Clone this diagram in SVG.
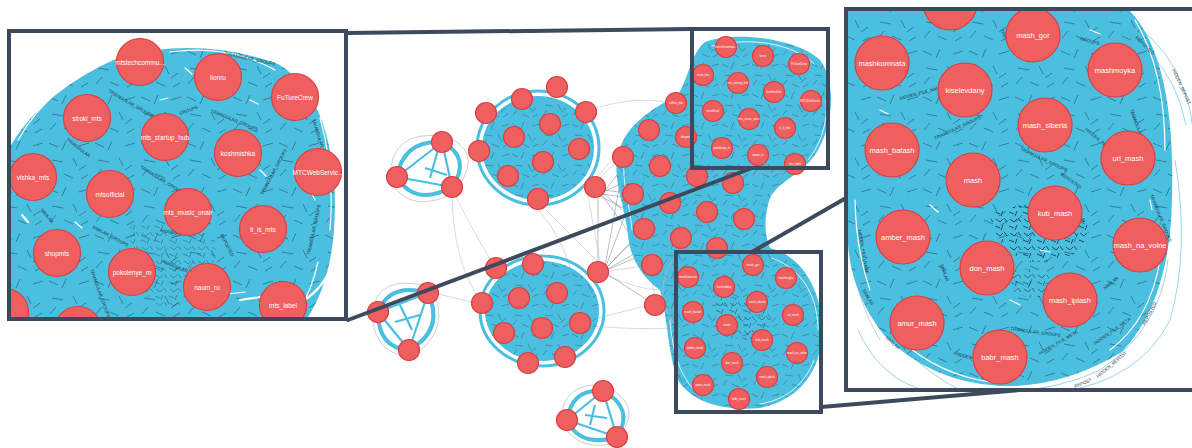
<svg xmlns="http://www.w3.org/2000/svg" width="1192" height="448" viewBox="0 0 1192 448">
<style>
.n{fill:#ef5f5f;stroke:#d8403f;stroke-width:1.2}
.t{font-family:"Liberation Sans",Arial,sans-serif;fill:#fff;text-anchor:middle;dominant-baseline:central}
.tl{font-size:6.5px}.tr{font-size:7.5px}.tm{font-size:2.8px}
.blue{fill:#4bbfe0}
.ring{fill:none;stroke:#4bbfe0}
.scr{fill:url(#scr)}
.e{fill:none;stroke:#b9c3ca;stroke-width:0.6}
.ed{fill:none;stroke:#6f7f8a;stroke-width:0.5}
.gap{fill:none;stroke:#fff;stroke-linecap:round}
.box{fill:none;stroke:#3d4a5d;stroke-width:4}
.zl{stroke:#3d4a5d;stroke-width:4;stroke-linecap:round}
.el{font-family:"Liberation Sans",Arial,sans-serif;font-size:4.5px;fill:#17313f}
.eo{font-family:"Liberation Sans",Arial,sans-serif;font-size:4.5px;fill:#2a3a44}
.arc{fill:none;stroke:#8fd0e3;stroke-width:0.9}
.arcg{fill:none;stroke:#b5bcc2;stroke-width:0.7}
</style>
<defs>
<pattern id="scr" width="30" height="30" patternUnits="userSpaceOnUse">
<path d="M2,4 l6,3 M14,2 l-3,7 M22,6 l7,-2 M5,15 l8,1 M18,14 l3,6 M26,18 l-5,4 M3,25 l4,-5 M12,24 l7,3 M23,27 l5,-3" stroke="#1d3a4c" stroke-width="0.6" opacity="0.6"/>
</pattern>
<pattern id="scr2" width="46" height="46" patternUnits="userSpaceOnUse">
<path d="M3,5 l9,4 M20,3 l-4,9 M33,8 l10,-3 M6,22 l11,2 M27,20 l4,8 M40,27 l-7,5 M4,38 l6,-7 M18,36 l9,4 M35,41 l7,-4" stroke="#1a3646" stroke-width="0.9" opacity="0.55"/>
</pattern>
<pattern id="scr3" width="14" height="14" patternUnits="userSpaceOnUse">
<path d="M1,2 l5,2 M9,1 l-2,5 M2,9 l4,3 M10,8 l3,4 M6,12 l3,-3" stroke="#10242f" stroke-width="1" opacity="0.75"/>
</pattern>
<clipPath id="cl"><rect x="10" y="33" width="334" height="285"/></clipPath>
<clipPath id="cr"><rect x="848" y="11" width="344" height="377"/></clipPath>
</defs>
<rect width="1192" height="448" fill="#fff"/>

<g id="connectors">
<path class="e" d="M452,190 Q452,260 480,300"/>
<path class="e" d="M455,195 Q475,235 492,262"/>
<path class="e" d="M438,294 L472,302"/>
<path class="e" d="M538,209 Q565,240 574,282"/>
<path class="e" d="M596,108 Q635,96 666,102"/>
<path class="e" d="M609,271 L642,266"/>
<path class="e" d="M590,320 L645,306"/>
<path class="e" d="M590,326 Q640,330 672,328"/>
<path class="e" d="M606,275 Q640,290 660,290"/>
<path class="ed" d="M604,192 L623,167 M604,190 L633,194 M603,193 L644,229 M602,195 L652,265 M600,196 L681,238 M598,198 L598,262 M601,194 L670,203 M603,192 L660,166"/>
<path class="ed" d="M606,266 L633,194 M607,267 L644,229 M607,270 L681,238 M606,268 L670,203 M607,274 L655,305 M606,270 L707,212 M605,266 L623,167"/>
<path class="e" d="M600,178 L649,130 M597,177 L620,150 M588,196 L600,262 M545,209 L598,262"/>
<path class="e" d="M655,295 Q650,280 655,275 M665,310 Q690,320 680,330"/>
</g>

<g id="blobs">
<path class="blue" d="M705,42 C740,30 800,40 820,60 C838,85 832,130 815,155 C800,175 778,182 770,198 C764,215 764,235 770,248 C802,256 822,290 822,330 C822,370 800,400 760,408 C720,412 690,400 678,380 C668,355 668,320 660,290 C645,280 630,260 628,235 C625,205 612,180 618,155 C625,125 650,110 678,95 C690,75 690,55 705,42 Z"/>
<path class="scr" d="M705,42 C740,30 800,40 820,60 C838,85 832,130 815,155 C800,175 778,182 770,198 C764,215 764,235 770,248 C802,256 822,290 822,330 C822,370 800,400 760,408 C720,412 690,400 678,380 C668,355 668,320 660,290 C645,280 630,260 628,235 C625,205 612,180 618,155 C625,125 650,110 678,95 C690,75 690,55 705,42 Z"/>
<path fill="url(#scr3)" opacity="0.6" d="M715,300 Q745,290 770,310 Q775,335 745,340 Q715,335 715,300 Z"/>
<path class="gap" stroke-width="0.8" d="M712,46 C750,36 795,44 814,64 M826,100 C828,125 820,145 808,160 M772,258 C805,270 818,300 818,330 M814,360 C805,385 785,400 760,404 M700,395 C680,380 672,350 670,320 M632,230 C630,205 622,185 624,160"/>
<ellipse class="blue" cx="538" cy="148" rx="56" ry="52"/>
<ellipse class="ring" cx="538" cy="148" rx="61" ry="57" stroke-width="3"/>
<ellipse class="scr" cx="538" cy="148" rx="56" ry="52"/>
<ellipse class="blue" cx="542" cy="311" rx="57" ry="50"/>
<ellipse class="ring" cx="542" cy="311" rx="62" ry="55" stroke-width="3"/>
<ellipse class="scr" cx="542" cy="311" rx="57" ry="50"/>
<g stroke="#4bbfe0" fill="none">
<path stroke-width="4" d="M442,142 Q403,140 397,177 M397,177 Q415,207 452,187 M452,187 Q472,158 442,142"/>
<path stroke-width="2.2" d="M442,142 L452,187 M397,177 L452,187 M442,142 L397,177 M438,150 L430,178 M425,168 L447,175"/>
<path stroke-width="4" d="M428,293 Q390,282 378,312 M378,312 Q378,348 409,350 M409,350 Q445,330 428,293"/>
<path stroke-width="2.2" d="M428,293 L409,350 M378,312 L409,350 M428,293 L378,312 M400,305 L412,330 M395,322 L420,315"/>
<path stroke-width="4" d="M603,391 Q572,388 567,420 M567,420 Q580,448 617,437 M617,437 Q635,408 603,391"/>
<path stroke-width="2.2" d="M603,391 L617,437 M567,420 L617,437 M603,391 L567,420 M595,405 L590,425 M585,415 L607,418"/>
</g>
<g class="arcg">
<path d="M442,136 Q390,130 390,178 M390,180 Q410,218 460,190 M460,184 Q482,150 445,136"/>
<path d="M430,287 Q378,272 371,314 M372,316 Q376,358 414,356 M414,355 Q452,330 432,288"/>
<path d="M604,385 Q562,382 561,421 M562,424 Q580,455 623,441 M622,432 Q642,405 606,386"/>
<path d="M672,260 Q650,300 680,330"/>
</g>
</g>

<g id="mid-nodes">
<g id="m1"><circle class="n" cx="442" cy="142" r="10.5"/></g>
<g id="m2"><circle class="n" cx="397" cy="177" r="10.5"/></g>
<g id="m3"><circle class="n" cx="452" cy="187" r="10.5"/></g>
<g id="m4"><circle class="n" cx="557" cy="87" r="10.5"/></g>
<g id="m5"><circle class="n" cx="522" cy="99" r="10.5"/></g>
<g id="m6"><circle class="n" cx="586" cy="112" r="10.5"/></g>
<g id="m7"><circle class="n" cx="486" cy="113" r="10.5"/></g>
<g id="m8"><circle class="n" cx="550" cy="124" r="10.5"/></g>
<g id="m9"><circle class="n" cx="514" cy="137" r="10.5"/></g>
<g id="m10"><circle class="n" cx="579" cy="149" r="10.5"/></g>
<g id="m11"><circle class="n" cx="479" cy="151" r="10.5"/></g>
<g id="m12"><circle class="n" cx="543" cy="162" r="10.5"/></g>
<g id="m13"><circle class="n" cx="508" cy="176" r="10.5"/></g>
<g id="m14"><circle class="n" cx="595" cy="187" r="10.5"/></g>
<g id="m15"><circle class="n" cx="538" cy="199" r="10.5"/></g>
<g id="b-mtstechcommu"><circle class="n" cx="726" cy="47" r="10.5"/><text class="t tm" x="726" y="47">mtstechcommu...</text></g>
<g id="b-lionru"><circle class="n" cx="763" cy="56" r="10.5"/><text class="t tm" x="763" y="56">lionru</text></g>
<g id="b-FuTureCrew"><circle class="n" cx="799" cy="64" r="10.5"/><text class="t tm" x="799" y="64">FuTureCrew</text></g>
<g id="b-stroki_mts"><circle class="n" cx="703" cy="75" r="10.5"/><text class="t tm" x="703" y="75">stroki_mts</text></g>
<g id="b-mts_startup_hub"><circle class="n" cx="738" cy="83" r="10.5"/><text class="t tm" x="738" y="83">mts_startup_hub</text></g>
<g id="b-koshmishka"><circle class="n" cx="774" cy="92" r="10.5"/><text class="t tm" x="774" y="92">koshmishka</text></g>
<g id="b-MTCWebServic"><circle class="n" cx="811" cy="101" r="10.5"/><text class="t tm" x="811" y="101">MTCWebServic...</text></g>
<g id="b-vishka_mts"><circle class="n" cx="676" cy="103" r="10.5"/><text class="t tm" x="676" y="103">vishka_mts</text></g>
<g id="b-mtsofficial"><circle class="n" cx="713" cy="111" r="10.5"/><text class="t tm" x="713" y="111">mtsofficial</text></g>
<g id="b-mts_music_onair"><circle class="n" cx="749" cy="119" r="10.5"/><text class="t tm" x="749" y="119">mts_music_onair</text></g>
<g id="b-it_is_mts"><circle class="n" cx="785" cy="128" r="10.5"/><text class="t tm" x="785" y="128">it_is_mts</text></g>
<g id="b-shopmts"><circle class="n" cx="686" cy="137" r="10.5"/><text class="t tm" x="686" y="137">shopmts</text></g>
<g id="b-pokolenye_m"><circle class="n" cx="722" cy="148" r="10.5"/><text class="t tm" x="722" y="148">pokolenye_m</text></g>
<g id="b-naum_ru"><circle class="n" cx="758" cy="155" r="10.5"/><text class="t tm" x="758" y="155">naum_ru</text></g>
<g id="b-mts_label"><circle class="n" cx="795" cy="164" r="10.5"/><text class="t tm" x="795" y="164">mts_label</text></g>
<g id="m16"><circle class="n" cx="649" cy="130" r="10.5"/></g>
<g id="m17"><circle class="n" cx="623" cy="157" r="10.5"/></g>
<g id="m18"><circle class="n" cx="660" cy="166" r="10.5"/></g>
<g id="m19"><circle class="n" cx="697" cy="176" r="10.5"/></g>
<g id="m20"><circle class="n" cx="733" cy="183" r="10.5"/></g>
<g id="m21"><circle class="n" cx="633" cy="194" r="10.5"/></g>
<g id="m22"><circle class="n" cx="670" cy="203" r="10.5"/></g>
<g id="m23"><circle class="n" cx="707" cy="212" r="10.5"/></g>
<g id="m24"><circle class="n" cx="744" cy="219" r="10.5"/></g>
<g id="m25"><circle class="n" cx="644" cy="229" r="10.5"/></g>
<g id="m26"><circle class="n" cx="681" cy="238" r="10.5"/></g>
<g id="m27"><circle class="n" cx="652" cy="265" r="10.5"/></g>
<g id="m28"><circle class="n" cx="655" cy="305" r="10.5"/></g>
<g id="s-top"><circle class="n" cx="717" cy="248" r="10.5"/></g>
<g id="s-mash_gor"><circle class="n" cx="753" cy="265" r="10.5"/><text class="t tm" x="753" y="265">mash_gor</text></g>
<g id="s-mashmoyka"><circle class="n" cx="786" cy="278" r="10.5"/><text class="t tm" x="786" y="278">mashmoyka</text></g>
<g id="s-mashkomnata"><circle class="n" cx="688" cy="277" r="10.5"/><text class="t tm" x="688" y="277">mashkomnata</text></g>
<g id="s-kiselevdany"><circle class="n" cx="724" cy="287" r="10.5"/><text class="t tm" x="724" y="287">kiselevdany</text></g>
<g id="s-mash_siberia"><circle class="n" cx="757" cy="302" r="10.5"/><text class="t tm" x="757" y="302">mash_siberia</text></g>
<g id="s-mash_batash"><circle class="n" cx="693" cy="312" r="10.5"/><text class="t tm" x="693" y="312">mash_batash</text></g>
<g id="s-url_mash"><circle class="n" cx="793" cy="315" r="10.5"/><text class="t tm" x="793" y="315">url_mash</text></g>
<g id="s-mash"><circle class="n" cx="727" cy="325" r="10.5"/><text class="t tm" x="727" y="325">mash</text></g>
<g id="s-kub_mash"><circle class="n" cx="762" cy="340" r="10.5"/><text class="t tm" x="762" y="340">kub_mash</text></g>
<g id="s-amber_mash"><circle class="n" cx="695" cy="348" r="10.5"/><text class="t tm" x="695" y="348">amber_mash</text></g>
<g id="s-mash_na_volne"><circle class="n" cx="797" cy="353" r="10.5"/><text class="t tm" x="797" y="353">mash_na_volne</text></g>
<g id="s-don_mash"><circle class="n" cx="732" cy="363" r="10.5"/><text class="t tm" x="732" y="363">don_mash</text></g>
<g id="s-mash_iplash"><circle class="n" cx="767" cy="377" r="10.5"/><text class="t tm" x="767" y="377">mash_iplash</text></g>
<g id="s-amur_mash"><circle class="n" cx="703" cy="385" r="10.5"/><text class="t tm" x="703" y="385">amur_mash</text></g>
<g id="s-babr_mash"><circle class="n" cx="739" cy="399" r="10.5"/><text class="t tm" x="739" y="399">babr_mash</text></g>
<g id="m29"><circle class="n" cx="496" cy="268" r="10.5"/></g>
<g id="m30"><circle class="n" cx="533" cy="264" r="10.5"/></g>
<g id="m31"><circle class="n" cx="598" cy="272" r="10.5"/></g>
<g id="m32"><circle class="n" cx="482" cy="303" r="10.5"/></g>
<g id="m33"><circle class="n" cx="519" cy="298" r="10.5"/></g>
<g id="m34"><circle class="n" cx="557" cy="293" r="10.5"/></g>
<g id="m35"><circle class="n" cx="580" cy="323" r="10.5"/></g>
<g id="m36"><circle class="n" cx="504" cy="333" r="10.5"/></g>
<g id="m37"><circle class="n" cx="542" cy="328" r="10.5"/></g>
<g id="m38"><circle class="n" cx="528" cy="363" r="10.5"/></g>
<g id="m39"><circle class="n" cx="565" cy="357" r="10.5"/></g>
<g id="m40"><circle class="n" cx="428" cy="293" r="10.5"/></g>
<g id="m41"><circle class="n" cx="378" cy="312" r="10.5"/></g>
<g id="m42"><circle class="n" cx="409" cy="350" r="10.5"/></g>
<g id="m43"><circle class="n" cx="603" cy="391" r="10.5"/></g>
<g id="m44"><circle class="n" cx="567" cy="420" r="10.5"/></g>
<g id="m45"><circle class="n" cx="617" cy="437" r="10.5"/></g>
</g>

<g id="inset-left">
<rect x="10" y="33" width="334" height="285" fill="#fff"/>
<g clip-path="url(#cl)">
<path class="blue" d="M120,57 Q200,36 278,64 Q326,92 334,180 Q340,270 306,320 L8,320 L8,150 Q40,92 120,57 Z"/>
<path fill="url(#scr2)" d="M120,57 Q200,36 278,64 Q326,92 334,180 Q340,270 306,320 L8,320 L8,150 Q40,92 120,57 Z"/>
<path fill="url(#scr3)" opacity="0.45" d="M130,225 Q180,215 215,240 Q220,290 170,310 Q130,300 130,225 Z"/>
<path class="gap" stroke-width="1.2" d="M170,52 Q230,44 275,70 M320,118 Q335,170 330,230 M318,262 Q312,290 298,312 M60,90 Q35,110 18,140 M250,100 L258,104 M185,68 L192,74 M310,190 L315,200 M220,295 L245,292 M270,296 L282,300 M75,222 L82,228 M160,100 L168,98 M260,170 L266,176"/>
<path class="gap" stroke-width="2.2" d="M297,305 Q320,292 330,270 M240,300 L268,296 M22,215 L28,222 M130,78 L138,80"/>
<text class="el" transform="translate(210,112) rotate(22)">TRIANGULAR_GROUPS</text>
<text class="el" transform="translate(108,92) rotate(30)">TRIANGULAR_GROUPS</text>
<text class="el" transform="translate(263,195) rotate(-62)">TRIANGULAR_GROUPS</text>
<text class="el" transform="translate(92,228) rotate(28)">SIMILAR_GROUPS</text>
<text class="el" transform="translate(160,262) rotate(22)">TRIANGULAR_GROUPS</text>
<text class="el" transform="translate(66,140) rotate(38)">TRIANGULAR</text>
<text class="el" transform="translate(140,168) rotate(32)">TRIANGULAR_GROUPS</text>
<text class="el" transform="translate(225,55) rotate(12)">TRIANGULAR_GROUPS</text>
<text class="el" transform="translate(310,255) rotate(-78)">TRIANGULAR_GROUPS</text>
<text class="el" transform="translate(160,232) rotate(8)">HIDDEN_FILE_...</text>
<text class="el" transform="translate(220,235) rotate(62)">REPOSTED</text>
<text class="el" transform="translate(312,120) rotate(72)">TRIANGULAR_GROUPS</text>
<text class="el" transform="translate(40,210) rotate(50)">SIMILAR</text>
<text class="el" transform="translate(180,115) rotate(-20)">GROUPS</text>
<text class="el" transform="translate(90,270) rotate(70)">TRIANGULAR_GROUPS</text>
</g>
<g clip-path="url(#cl)">
<g id="L-mtstechcommu"><circle class="n" cx="140" cy="62" r="23.5"/><text class="t tl" x="140" y="62">mtstechcommu...</text></g>
<g id="L-lionru"><circle class="n" cx="218" cy="77" r="23.5"/><text class="t tl" x="218" y="77">lionru</text></g>
<g id="L-FuTureCrew"><circle class="n" cx="295" cy="97" r="23.5"/><text class="t tl" x="295" y="97">FuTureCrew</text></g>
<g id="L-stroki_mts"><circle class="n" cx="87" cy="118" r="23.5"/><text class="t tl" x="87" y="118">stroki_mts</text></g>
<g id="L-mts_startup_hub"><circle class="n" cx="165" cy="137" r="23.5"/><text class="t tl" x="165" y="137">mts_startup_hub</text></g>
<g id="L-koshmishka"><circle class="n" cx="238" cy="153" r="23.5"/><text class="t tl" x="238" y="153">koshmishka</text></g>
<g id="L-MTCWebServic"><circle class="n" cx="318" cy="172" r="23.5"/><text class="t tl" x="318" y="172">MTCWebServic...</text></g>
<g id="L-vishka_mts"><circle class="n" cx="33" cy="177" r="23.5"/><text class="t tl" x="33" y="177">vishka_mts</text></g>
<g id="L-mtsofficial"><circle class="n" cx="110" cy="194" r="23.5"/><text class="t tl" x="110" y="194">mtsofficial</text></g>
<g id="L-mts_music_onair"><circle class="n" cx="188" cy="212" r="23.5"/><text class="t tl" x="188" y="212">mts_music_onair</text></g>
<g id="L-it_is_mts"><circle class="n" cx="263" cy="229" r="23.5"/><text class="t tl" x="263" y="229">it_is_mts</text></g>
<g id="L-shopmts"><circle class="n" cx="57" cy="253" r="23.5"/><text class="t tl" x="57" y="253">shopmts</text></g>
<g id="L-pokolenye_m"><circle class="n" cx="132" cy="272" r="23.5"/><text class="t tl" x="132" y="272">pokolenye_m</text></g>
<g id="L-naum_ru"><circle class="n" cx="207" cy="287" r="23.5"/><text class="t tl" x="207" y="287">naum_ru</text></g>
<g id="L-mts_label"><circle class="n" cx="283" cy="305" r="23.5"/><text class="t tl" x="283" y="305">mts_label</text></g>
<g id="L-p1"><circle class="n" cx="5" cy="312" r="23.5"/></g>
<g id="L-p2"><circle class="n" cx="78" cy="330" r="23.5"/></g>
</g>
</g>

<g id="inset-right">
<rect x="848" y="11" width="344" height="377" fill="#fff"/>
<g clip-path="url(#cr)">
<path class="arc" d="M1080,22 Q1168,35 1186,125"/>
<path class="arcg" d="M1060,18 Q1158,25 1152,125"/>
<path class="arc" d="M1120,16 Q1195,55 1195,160"/>
<path class="arc" d="M1175,160 Q1190,250 1170,320 Q1140,380 1060,392"/>
<path class="arc" d="M1168,260 Q1160,330 1100,370 Q1060,390 1000,392"/>
<path class="arcg" d="M1150,300 Q1120,355 1050,380"/>
<path class="arc" d="M875,300 Q900,360 960,390"/>
<path class="arc" d="M858,330 Q880,380 930,392"/>
<path class="arcg" d="M852,250 Q855,300 880,340"/>
<path class="arc" d="M870,240 Q880,300 905,330"/>
<path class="blue" d="M848,11 L1130,11 Q1176,60 1172,200 Q1170,300 1122,352 Q1062,388 1000,386 Q930,382 884,335 Q852,295 848,245 Z"/>
<path fill="url(#scr2)" d="M848,11 L1130,11 Q1176,60 1172,200 Q1170,300 1122,352 Q1062,388 1000,386 Q930,382 884,335 Q852,295 848,245 Z"/>
<path fill="url(#scr3)" d="M990,215 Q1040,190 1090,225 Q1085,265 1030,262 Q995,250 990,215 Z"/>
<path fill="url(#scr3)" opacity="0.7" d="M1010,270 Q1050,265 1060,290 Q1030,305 1012,290 Z"/>
<path class="gap" stroke-width="1.2" d="M1135,20 Q1165,70 1165,150 M1160,260 Q1150,320 1110,350 M900,340 Q940,375 990,382 M855,200 Q856,250 870,290 M1090,30 L1100,34 M930,205 L938,212 M1010,300 L1020,305 M880,110 L888,114 M1150,200 L1152,210 M1040,250 L1050,252"/>
<text class="el" transform="translate(1020,150) rotate(25)">TRIANGULAR_GROUPS</text>
<text class="el" transform="translate(900,100) rotate(-15)">HIDDEN_FILE_NAME</text>
<text class="el" transform="translate(1085,130) rotate(40)">HIDDEN_REPOST</text>
<text class="el" transform="translate(1150,195) rotate(68)">TRIANGULAR_GROUPS</text>
<text class="el" transform="translate(1035,230) rotate(-10)">TRIANGULAR_GROUPS</text>
<text class="el" transform="translate(1010,330) rotate(8)">TRIANGULAR_GROUPS</text>
<text class="el" transform="translate(1105,290) rotate(-40)">SIMILAR</text>
<text class="el" transform="translate(935,140) rotate(-25)">TRIANGULAR_GROUPS</text>
<text class="el" transform="translate(1000,30) rotate(60)">TRIANGULAR</text>
<text class="el" transform="translate(858,230) rotate(80)">HIDDEN_FILE_NAME</text>
<text class="el" transform="translate(955,355) rotate(15)">HIDDEN_FILE</text>
<text class="el" transform="translate(940,265) rotate(70)">SIMILAR</text>
<text class="el" transform="translate(1080,40) rotate(15)">GROUPS</text>
<text class="el" transform="translate(1060,175) rotate(35)">REPOSTED</text>
<text class="el" transform="translate(1130,110) rotate(70)">TRIANGULAR_GROUPS</text>
<text class="eo" transform="translate(1135,38) rotate(45)">REPOSTED</text>
<text class="eo" transform="translate(1172,70) rotate(65)">HIDDEN_REPOST</text>
<text class="eo" transform="translate(1095,345) rotate(-35)">HIDDEN_FILE_META</text>
<text class="eo" transform="translate(1098,378) rotate(-40)">HIDDEN_REPOST</text>
<text class="eo" transform="translate(1145,325) rotate(-62)">REPOSTED</text>
<text class="eo" transform="translate(885,338) rotate(42)">SIMILAR</text>
<text class="eo" transform="translate(1075,388) rotate(-22)">REPOST</text>
<text class="eo" transform="translate(1040,355) rotate(-30)">HIDDEN_FILE_META</text>
<text class="eo" transform="translate(862,290) rotate(60)">SIMILAR</text>
</g>
<g clip-path="url(#cr)">
<g id="R-top"><circle class="n" cx="950" cy="3" r="27"/></g>
<g id="R-mash_gor"><circle class="n" cx="1033" cy="35" r="27"/><text class="t tr" x="1033" y="35">mash_gor</text></g>
<g id="R-mashkomnata"><circle class="n" cx="882" cy="63" r="27"/><text class="t tr" x="882" y="63">mashkomnata</text></g>
<g id="R-kiselevdany"><circle class="n" cx="965" cy="90" r="27"/><text class="t tr" x="965" y="90">kiselevdany</text></g>
<g id="R-mashmoyka"><circle class="n" cx="1115" cy="70" r="27"/><text class="t tr" x="1115" y="70">mashmoyka</text></g>
<g id="R-mash_siberia"><circle class="n" cx="1045" cy="125" r="27"/><text class="t tr" x="1045" y="125">mash_siberia</text></g>
<g id="R-mash_batash"><circle class="n" cx="892" cy="150" r="27"/><text class="t tr" x="892" y="150">mash_batash</text></g>
<g id="R-url_mash"><circle class="n" cx="1128" cy="158" r="27"/><text class="t tr" x="1128" y="158">url_mash</text></g>
<g id="R-mash"><circle class="n" cx="973" cy="180" r="27"/><text class="t tr" x="973" y="180">mash</text></g>
<g id="R-kub_mash"><circle class="n" cx="1055" cy="213" r="27"/><text class="t tr" x="1055" y="213">kub_mash</text></g>
<g id="R-amber_mash"><circle class="n" cx="903" cy="237" r="27"/><text class="t tr" x="903" y="237">amber_mash</text></g>
<g id="R-mash_na_volne"><circle class="n" cx="1140" cy="245" r="27"/><text class="t tr" x="1140" y="245">mash_na_volne</text></g>
<g id="R-don_mash"><circle class="n" cx="987" cy="268" r="27"/><text class="t tr" x="987" y="268">don_mash</text></g>
<g id="R-mash_iplash"><circle class="n" cx="1070" cy="300" r="27"/><text class="t tr" x="1070" y="300">mash_iplash</text></g>
<g id="R-amur_mash"><circle class="n" cx="917" cy="323" r="27"/><text class="t tr" x="917" y="323">amur_mash</text></g>
<g id="R-babr_mash"><circle class="n" cx="1000" cy="357" r="27"/><text class="t tr" x="1000" y="357">babr_mash</text></g>
</g>
</g>

<g id="zoom-frames">
<line class="zl" x1="346" y1="33" x2="692" y2="29"/>
<line class="zl" x1="348" y1="320" x2="752" y2="168"/>
<line class="zl" x1="846" y1="198" x2="752" y2="252"/>
<line class="zl" x1="821" y1="407" x2="1020" y2="390"/>
<rect class="box" x="9" y="31" width="337" height="288"/>
<rect class="box" x="692" y="29" width="136" height="139"/>
<rect class="box" x="676" y="252" width="145" height="160"/>
<rect class="box" x="846" y="9" width="360" height="381"/>
</g>
</svg>
